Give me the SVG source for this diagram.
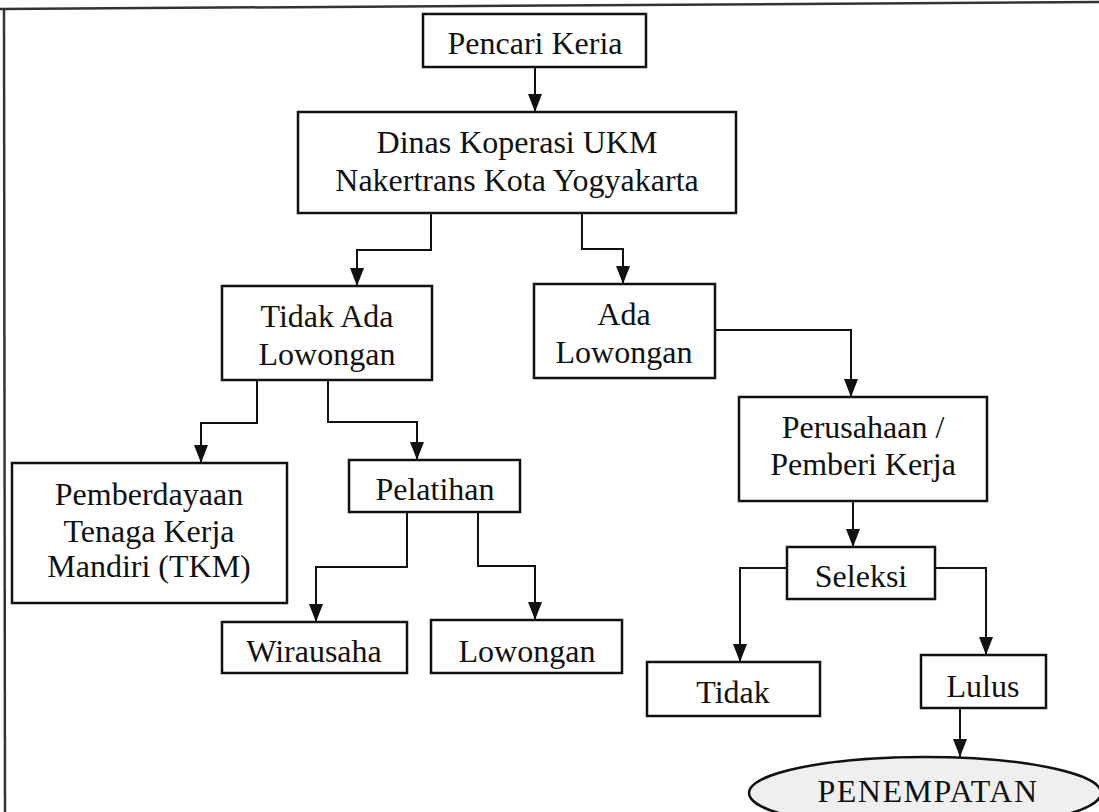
<svg xmlns="http://www.w3.org/2000/svg" width="1099" height="812" viewBox="0 0 1099 812">
<style>
.box{fill:#fff;stroke:#111;stroke-width:2.5}
.ell{fill:#efefef;stroke:#111;stroke-width:2.5}
.t{font-family:"Liberation Serif","Times New Roman",serif;font-size:32px;fill:#111;text-anchor:middle}
.wide{letter-spacing:1.5px}
.c{fill:none;stroke:#111;stroke-width:2;marker-end:url(#ah)}
.frame{fill:none;stroke:#333;stroke-width:2.5}
</style>
<defs>
<marker id="ah" viewBox="0 0 18 14" refX="18" refY="7" markerWidth="18" markerHeight="14" markerUnits="userSpaceOnUse" orient="auto">
<path d="M0,0 L18,7 L0,14 z" fill="#111"/>
</marker>
</defs>
<rect width="1099" height="812" fill="#fff"/>
<g id="frame">
<path class="frame" d="M0,9 L1099,2"/>
<path class="frame" d="M4,9 L5,812"/>
</g>
<g id="connectors">
<path class="c" d="M535,67 V112"/>
<path class="c" d="M431,213 V250 H357 V286"/>
<path class="c" d="M582,213 V249 H623 V284"/>
<path class="c" d="M715,330 H851 V397"/>
<path class="c" d="M853,501 V547"/>
<path class="c" d="M787,568 H740 V662"/>
<path class="c" d="M935,568 H986 V655"/>
<path class="c" d="M960,708 V757"/>
<path class="c" d="M257,380 V423 H201 V463"/>
<path class="c" d="M328,380 V422 H417 V460"/>
<path class="c" d="M407,512 V567 H316 V622"/>
<path class="c" d="M478,512 V566 H535 V620"/>
</g>
<g id="pencari">
<rect class="box" x="423" y="14" width="223" height="53"/>
<text class="t" x="535" y="54">Pencari Keria</text>
</g>
<g id="dinas">
<rect class="box" x="298" y="112" width="438" height="101"/>
<text class="t" x="517" y="153">Dinas Koperasi UKM</text>
<text class="t" x="517" y="191">Nakertrans Kota Yogyakarta</text>
</g>
<g id="tidak-ada">
<rect class="box" x="222" y="286" width="210" height="94"/>
<text class="t" x="327" y="327">Tidak Ada</text>
<text class="t" x="327" y="365">Lowongan</text>
</g>
<g id="ada">
<rect class="box" x="534" y="284" width="181" height="94"/>
<text class="t" x="624" y="325">Ada</text>
<text class="t" x="624" y="363">Lowongan</text>
</g>
<g id="perusahaan">
<rect class="box" x="739" y="397" width="248" height="104"/>
<text class="t" x="863" y="438">Perusahaan /</text>
<text class="t" x="863" y="475">Pemberi Kerja</text>
</g>
<g id="seleksi">
<rect class="box" x="787" y="547" width="148" height="52"/>
<text class="t" x="861" y="587">Seleksi</text>
</g>
<g id="tidak">
<rect class="box" x="647" y="662" width="173" height="54"/>
<text class="t" x="733" y="703">Tidak</text>
</g>
<g id="lulus">
<rect class="box" x="921" y="655" width="125" height="53"/>
<text class="t" x="983" y="697">Lulus</text>
</g>
<g id="penempatan">
<ellipse class="ell" cx="925" cy="793" rx="176" ry="36"/>
<text class="t wide" x="928" y="802">PENEMPATAN</text>
</g>
<g id="pemberdayaan">
<rect class="box" x="12" y="463" width="275" height="140"/>
<text class="t" x="149" y="505">Pemberdayaan</text>
<text class="t" x="149" y="542">Tenaga Kerja</text>
<text class="t" x="149" y="577">Mandiri (TKM)</text>
</g>
<g id="pelatihan">
<rect class="box" x="349" y="460" width="171" height="52"/>
<text class="t" x="435" y="500">Pelatihan</text>
</g>
<g id="wirausaha">
<rect class="box" x="222" y="622" width="185" height="51"/>
<text class="t" x="314" y="662">Wirausaha</text>
</g>
<g id="lowongan">
<rect class="box" x="431" y="620" width="191" height="53"/>
<text class="t" x="527" y="662">Lowongan</text>
</g>
</svg>
